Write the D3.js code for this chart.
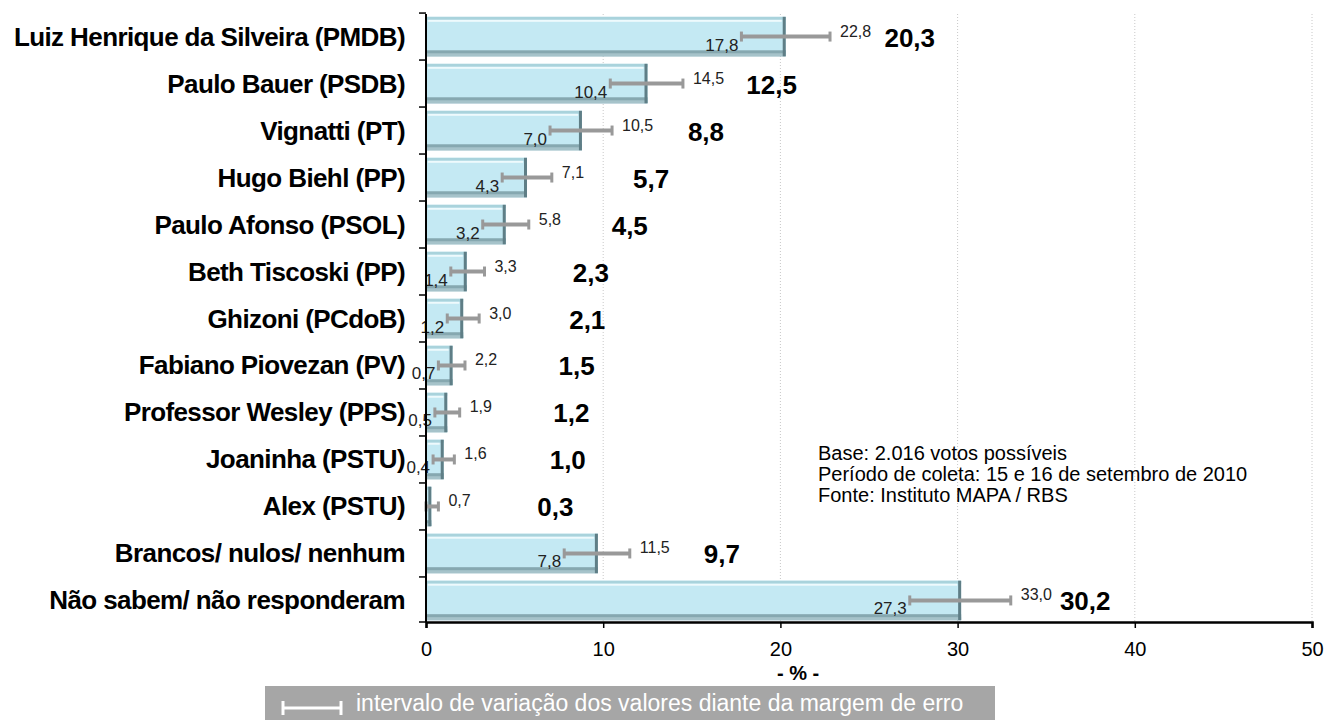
<!DOCTYPE html>
<html>
<head>
<meta charset="utf-8">
<script src="https://cdn.jsdelivr.net/npm/d3@7"></script>
<style>
  body { margin: 0; background: #fff; }
  svg { font-family: Arial, "Liberation Sans", sans-serif; }
</style>
</head>
<body>
<div class="chart"></div>
<script>
// candidatos, valores e margem de erro
const categories = [
  "Luiz Henrique da Silveira (PMDB)", "Paulo Bauer (PSDB)", "Vignatti (PT)", "Hugo Biehl (PP)",
  "Paulo Afonso (PSOL)", "Beth Tiscoski (PP)", "Ghizoni (PCdoB)", "Fabiano Piovezan (PV)",
  "Professor Wesley (PPS)", "Joaninha (PSTU)", "Alex (PSTU)", "Brancos/ nulos/ nenhum",
  "Não sabem/ não responderam"
];
const values = [20.3, 12.5, 8.8, 5.7, 4.5, 2.3, 2.1, 1.5, 1.2, 1.0, 0.3, 9.7, 30.2];
const lower  = [17.8, 10.4, 7.0, 4.3, 3.2, 1.4, 1.2, 0.7, 0.5, 0.4, 0.0, 7.8, 27.3];
const upper  = [22.8, 14.5, 10.5, 7.1, 5.8, 3.3, 3.0, 2.2, 1.9, 1.6, 0.7, 11.5, 33.0];
const xTicks = [0, 10, 20, 30, 40, 50];
const notes = ["Base: 2.016 votos possíveis", "Período de coleta: 15 e 16 de setembro de 2010", "Fonte: Instituto MAPA / RBS"];
const legendText = "intervalo de variação dos valores diante da margem de erro";

const data = categories.map((c, i) => ({name: c, v: values[i], lo: lower[i], hi: upper[i]}));
const fmt = v => d3.format(".1f")(v).replace(".", ",");

const W = 1324, H = 720;
const svg = d3.select(".chart").append("svg").attr("width", W).attr("height", H);

const x = d3.scaleLinear().domain([0, 50]).range([426, 1312]);
const y = d3.scaleBand().domain(categories).range([14, 623]).paddingInner(0.16).paddingOuter(0.06);

// grid
svg.append("g").selectAll("line").data(xTicks.slice(1)).enter().append("line")
  .attr("x1", d => x(d)).attr("x2", d => x(d))
  .attr("y1", 14).attr("y2", 622)
  .attr("stroke", "#c8c8c8").attr("stroke-dasharray", "1,2");

// bars with bevel
const bars = svg.append("g").selectAll("g").data(data).enter().append("g");
bars.append("rect")
  .attr("x", x(0)).attr("y", d => y(d.name))
  .attr("width", d => x(d.v) - x(0)).attr("height", y.bandwidth())
  .attr("fill", "#c4e9f3");
bars.append("rect")
  .attr("x", x(0)).attr("y", d => y(d.name))
  .attr("width", d => x(d.v) - x(0)).attr("height", 3)
  .attr("fill", "#a9d3dc");
bars.append("rect")
  .attr("x", x(0) + 2).attr("y", d => y(d.name) + 3)
  .attr("width", d => Math.max(0, x(d.v) - x(0) - 6)).attr("height", 2)
  .attr("fill", "#eefafd");
bars.append("rect")
  .attr("x", x(0)).attr("y", d => y(d.name) + y.bandwidth() - 6)
  .attr("width", d => x(d.v) - x(0)).attr("height", 6)
  .attr("fill", "#86a8b0");
bars.append("rect")
  .attr("x", x(0)).attr("y", d => y(d.name) + y.bandwidth() - 3)
  .attr("width", d => x(d.v) - x(0)).attr("height", 3)
  .attr("fill", "#a6c3ca");
bars.append("rect")
  .attr("x", d => Math.max(x(0), x(d.v) - 3)).attr("y", d => y(d.name))
  .attr("width", d => Math.min(3, x(d.v) - x(0))).attr("height", y.bandwidth())
  .attr("fill", "#5f7e86");

// error bars
const eb = svg.append("g").selectAll("g").data(data).enter().append("g")
  .attr("transform", d => "translate(0," + (y(d.name) + y.bandwidth() / 2) + ")");
eb.append("line")
  .attr("x1", d => x(d.lo)).attr("x2", d => x(d.hi))
  .attr("stroke", "#999").attr("stroke-width", 4);
eb.append("line")
  .attr("x1", d => x(d.lo)).attr("x2", d => x(d.lo)).attr("y1", -5).attr("y2", 5)
  .attr("stroke", "#999").attr("stroke-width", 3);
eb.append("line")
  .attr("x1", d => x(d.hi)).attr("x2", d => x(d.hi)).attr("y1", -5).attr("y2", 5)
  .attr("stroke", "#999").attr("stroke-width", 3);

// value labels
eb.filter(d => d.lo > 0).append("text")
  .attr("x", d => x(d.lo) - 3).attr("y", 14)
  .attr("text-anchor", "end").attr("font-size", 17).attr("fill", "#222")
  .text(d => fmt(d.lo));
eb.append("text")
  .attr("x", d => x(d.hi) + 10).attr("y", 0)
  .attr("font-size", 16).attr("fill", "#222")
  .text(d => fmt(d.hi));
eb.append("text")
  .attr("x", d => x(d.v + 7)).attr("y", 10)
  .attr("text-anchor", "middle").attr("font-size", 26).attr("font-weight", "bold")
  .text(d => fmt(d.v));

// axes
const yAxis = svg.append("g").attr("transform", "translate(" + x(0) + ",0)");
yAxis.append("line").attr("y1", 14).attr("y2", 622).attr("stroke", "#000").attr("stroke-width", 2);
const bounds = categories.map(c => y(c) - y.step() * y.paddingInner() / 2).concat([622]);
yAxis.selectAll(".tk").data(bounds).enter().append("line")
  .attr("x1", -7).attr("x2", 0).attr("y1", d => d).attr("y2", d => d)
  .attr("stroke", "#000").attr("stroke-width", 1.5);
svg.append("g").selectAll("text").data(categories).enter().append("text")
  .attr("x", 405).attr("y", d => y(d) + y.bandwidth() / 2 + 9)
  .attr("text-anchor", "end").attr("font-size", 26).attr("font-weight", "bold")
  .attr("letter-spacing", "-0.6")
  .text(d => d);

const xAxis = svg.append("g").attr("transform", "translate(0,622)")
  .call(d3.axisBottom(x).tickValues(xTicks).tickSize(6).tickPadding(14));
xAxis.select(".domain").attr("stroke-width", 2.5);
xAxis.selectAll("text").attr("font-size", 20).attr("fill", "#000").attr("font-family", "Arial, 'Liberation Sans', sans-serif");
xAxis.selectAll(".tick line").attr("stroke-width", 1.5);

svg.append("text").attr("x", x(21)).attr("y", 680)
  .attr("text-anchor", "middle").attr("font-size", 20).attr("font-weight", "bold")
  .text("- % -");

// notes
svg.append("g").selectAll("text").data(notes).enter().append("text")
  .attr("x", 818).attr("y", (d, i) => 460 + i * 21)
  .attr("font-size", 20).text(d => d);

// legend
const lg = svg.append("g").attr("transform", "translate(265,686)");
lg.append("rect").attr("width", 730).attr("height", 34).attr("fill", "#a6a6a6");
lg.append("line").attr("x1", 18).attr("x2", 76).attr("y1", 22).attr("y2", 22).attr("stroke", "#fff").attr("stroke-width", 3);
lg.append("line").attr("x1", 18).attr("x2", 18).attr("y1", 15).attr("y2", 29).attr("stroke", "#fff").attr("stroke-width", 3);
lg.append("line").attr("x1", 76).attr("x2", 76).attr("y1", 15).attr("y2", 29).attr("stroke", "#fff").attr("stroke-width", 3);
lg.append("text").attr("x", 91).attr("y", 25).attr("font-size", 23).attr("fill", "#fff").text(legendText);
</script>
</body>
</html>
